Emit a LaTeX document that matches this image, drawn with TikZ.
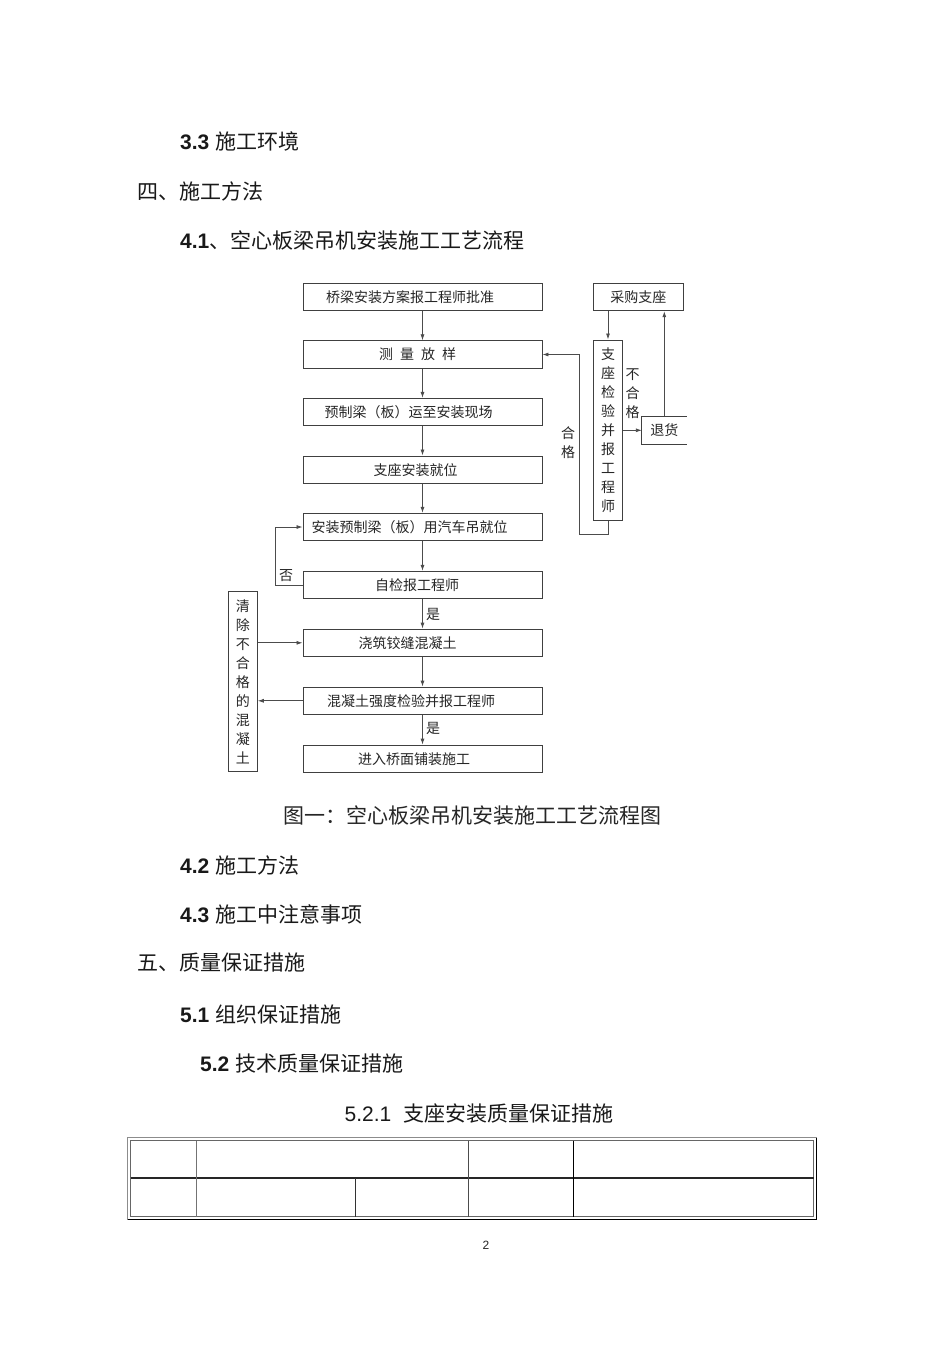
\documentclass[tikz,border=0pt]{standalone}
\usepackage{fontspec}
\setmainfont{Noto Sans CJK SC}
\newfontfamily\arialf{Liberation Sans}
\usetikzlibrary{arrows.meta, positioning, calc}

\begin{document}
\begin{tikzpicture}[
    x=1pt, y=-1pt,
    >={Latex[length=6pt,width=4pt]},
    stepbox/.style={rectangle, draw=black!75, line width=0.9pt, minimum width=239pt,
                    minimum height=27.5pt, inner sep=0pt, text=black!85,
                    font=\fontsize{14}{16}\selectfont},
    vbox/.style={rectangle, draw=black!75, line width=0.9pt, minimum width=29pt,
                 inner sep=0pt, align=center, text=black!85,
                 font=\fontsize{14}{19}\selectfont},
    flow/.style={->, draw=black!70, line width=0.8pt},
    tag/.style={font=\fontsize{14}{19}\selectfont, align=center, inner sep=0pt, text=black!85},
    heading/.style={anchor=west, inner sep=0pt, text=black!90, font=\fontsize{21}{24}\selectfont}
]
\fill[white] (0,0) rectangle (950,1345);
\useasboundingbox (0,0) rectangle (950,1345);

% page text above the chart
\node[heading] (h33) at (180,141) {{\arialf\bfseries 3.3 }施工环境};
\node[heading] (h4) at (137,191) {四、施工方法};
\node[heading] (h41) at (180,241) {{\arialf\bfseries 4.1}、空心板梁吊机安装施工工艺流程};

% main column
\node[stepbox] (b1) at (422.5,297) {桥梁安装方案报工程师批准\kern25pt};
\node[stepbox] (b2) at (422.5,354.5) {测\hspace{7pt}量\hspace{7pt}放\hspace{7pt}样\kern10pt};
\node[stepbox] (b3) at (422.5,412) {预制梁（板）运至安装现场\kern28pt};
\node[stepbox] (b4) at (422.5,469.7) {支座安装就位\kern14pt};
\node[stepbox] (b5) at (422.5,527) {安装预制梁（板）用汽车吊就位\kern26pt};
\node[stepbox] (b6) at (422.5,585) {自检报工程师\kern11pt};
\node[stepbox] (b7) at (422.5,642.8) {浇筑铰缝混凝土\kern30pt};
\node[stepbox] (b8) at (422.5,700.8) {混凝土强度检验并报工程师\kern23pt};
\node[stepbox] (b9) at (422.5,758.8) {进入桥面铺装施工\kern17pt};
\foreach \a/\b in {b1/b2,b2/b3,b3/b4,b4/b5,b5/b6,b6/b7,b7/b8,b8/b9} {
    \draw[flow] (\a) -- (\b);
}
\node[tag] (yes1) at (433,614) {是};
\node[tag] (yes2) at (433,728) {是};

% self check loop
\coordinate (nobend) at (275,527);
\draw[flow] (b6.west) -| (nobend) -- (b5.west);
\node[tag] (no) at (286,576) {否};

% concrete removal
\node[vbox, minimum height=180pt] (clear) at (242.8,681.7) {清\\除\\不\\合\\格\\的\\混\\凝\\土};
\draw[flow] (clear.east |- b7) -- (b7.west);
\draw[flow] (b8.west) -- (clear.east |- b8);

% bearing branch
\node[stepbox, minimum width=90pt] (buy) at (638.3,297) {采购支座};
\node[vbox, minimum height=180.7pt] (check) at (608,430.3) {支\\座\\检\\验\\并\\报\\工\\程\\师};
\node[stepbox, draw=none, minimum width=44pt, minimum height=27.3pt] (ret) at (664.3,430.3) {退货};
\draw[black!75, line width=0.9pt] (ret.north east) -- (ret.north west) -- (ret.south west) -- (ret.south east);
\draw[flow] (check.north |- buy.south) -- (check.north);
\draw[flow] (check.east) -- (ret.west);
\draw[flow] (ret.north) -- (ret.north |- buy.south);
\coordinate (okbend) at (579,534.3);
\draw[flow] (check.south) |- (okbend) |- (b2.east);
\node[tag] (ok) at (568,442.5) {合\\格};
\node[tag] (notok) at (632.7,393.5) {不\\合\\格};

% caption and following text
\node[inner sep=0pt, text=black!85, font=\fontsize{21}{24}\selectfont] (cap) at (472.5,815) {图一：空心板梁吊机安装施工工艺流程图};
\node[heading] (h42) at (180,865) {{\arialf\bfseries 4.2 }施工方法};
\node[heading] (h43) at (180,914) {{\arialf\bfseries 4.3 }施工中注意事项};
\node[heading] (h5) at (137,962) {五、质量保证措施};
\node[heading] (h51) at (180,1014) {{\arialf\bfseries 5.1 }组织保证措施};
\node[heading] (h52) at (200,1064) {{\arialf\bfseries 5.2 }技术质量保证措施};
\node[inner sep=0pt, text=black!90, font=\fontsize{21}{24}\selectfont] (h521) at (479,1113) {{\arialf 5.2.1}\hspace{12pt}支座安装质量保证措施};

% table
\draw[black!45, line width=1pt] (127.5,1137.5) rectangle (816.5,1219.5);
\draw[black, line width=1.5pt] (127.5,1219.5) -- (816.5,1219.5) -- (816.5,1137.5);
\draw[black!60, line width=1pt] (130.5,1140.5) rectangle (813.5,1216.5);
\draw[black!85, line width=2pt] (130.5,1178.3) -- (813.5,1178.3);
\draw[black!55, line width=1.3pt] (196.3,1140.5) -- (196.3,1216.5);
\draw[black!80, line width=0.9pt] (355.7,1178.3) -- (355.7,1216.5);
\draw[black!70, line width=1pt] (468.3,1140.5) -- (468.3,1216.5);
\draw[black, line width=1.4pt] (573.3,1140.5) -- (573.3,1216.5);

\node[text=black!85, font=\arialf\fontsize{12}{14}\selectfont] (pg) at (486,1245) {2};
\end{tikzpicture}
\end{document}
